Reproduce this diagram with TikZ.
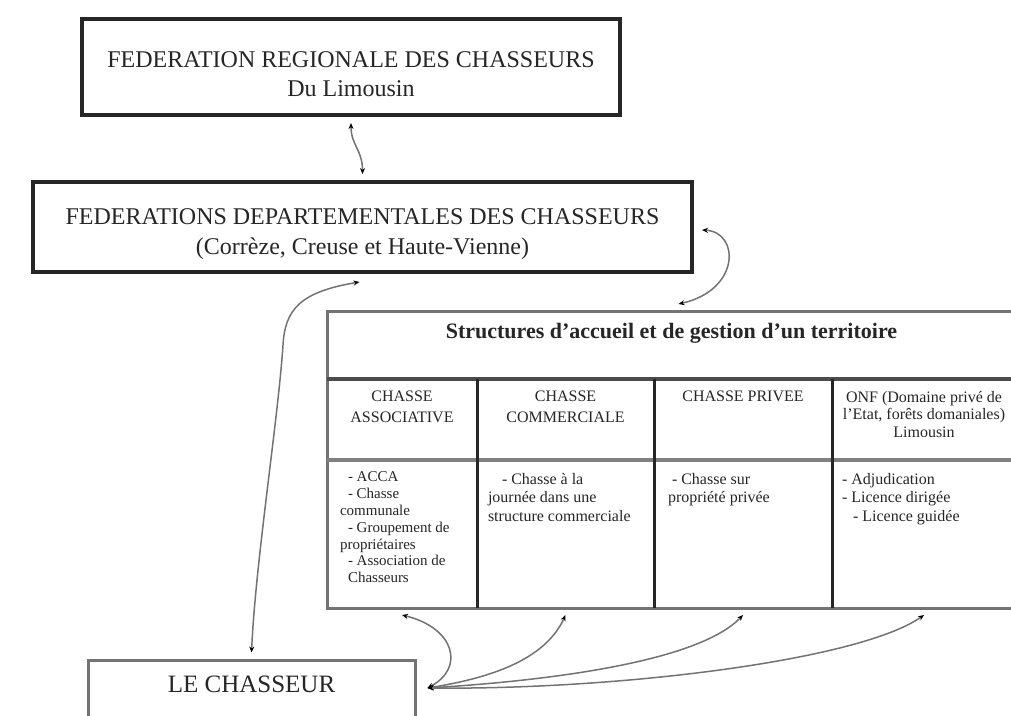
\documentclass[tikz,border=0pt]{standalone}
\usepackage{fontspec}
\setmainfont{Liberation Serif}
\usetikzlibrary{arrows.meta}
\newcommand{\mycell}[4]{\parbox[c][#2][t]{#1}{\vspace*{#3}#4}}
\begin{document}
\begin{tikzpicture}[x=1pt,y=-1pt,
  bigbox/.style={draw=black!85,line width=4pt,inner sep=0pt,text=black!85},
  smallbox/.style={draw=black!55,line width=3pt,inner sep=0pt,text=black!85},
  cell/.style={inner sep=0pt,outer sep=0pt,text=black!85},
  tout/.style={draw=black!55,line width=3pt},
  rowa/.style={draw=black!70,line width=4.5pt},
  rowb/.style={draw=black!50,line width=4pt},
  colline/.style={draw=black!85,line width=3pt},
  conn/.style={draw=black!55,line width=1.5pt,>={Stealth[length=6pt,width=5pt,color=black]},<->},
]
\useasboundingbox (0,0) rectangle (1011,715);
\fill[white] (0,0) rectangle (1011,715);

% top boxes
\node[bigbox] (top) at (351,67) {\mycell{538pt}{96pt}{33pt}{\centering\fontsize{24}{29}\selectfont FEDERATION REGIONALE DES CHASSEURS\\Du Limousin}};
\node[bigbox] (dept) at (362.5,227) {\mycell{659pt}{90pt}{27pt}{\centering\fontsize{24}{30}\selectfont FEDERATIONS DEPARTEMENTALES DES CHASSEURS\\(Corrèze, Creuse et Haute-Vienne)}};

% table cells
\node[cell] (thead) at (671.5,345) {\mycell{689pt}{68pt}{12pt}{\centering\fontsize{22}{26}\selectfont\bfseries Structures d'accueil et de gestion d'un territoire}};
\node[cell] (h1) at (402,419.5) {\mycell{150pt}{81pt}{12pt}{\centering\fontsize{16}{21}\selectfont CHASSE\\ASSOCIATIVE}};
\node[cell] (h2) at (565.5,419.5) {\mycell{177pt}{81pt}{12pt}{\centering\fontsize{16}{21}\selectfont CHASSE\\COMMERCIALE}};
\node[cell] (h3) at (743,419.5) {\mycell{178pt}{81pt}{12pt}{\centering\fontsize{16}{21}\selectfont CHASSE PRIVEE}};
\node[cell] (h4) at (924,419.5) {\mycell{184pt}{81pt}{12pt}{\centering\fontsize{16}{17.5}\selectfont ONF (Domaine privé de\\l'Etat, forêts domaniales)\\Limousin}};
\node[cell] (b1) at (402,534) {\mycell{150pt}{148pt}{12pt}{\raggedright\leftskip=13pt\fontsize{15}{16.8}\selectfont
  \hspace*{8pt}- ACCA\\\hspace*{8pt}- Chasse\\communale\\\hspace*{8pt}- Groupement de\\propriétaires\\\hspace*{8pt}- Association de\\\hspace*{8pt}Chasseurs}};
\node[cell] (b2) at (565.5,534) {\mycell{177pt}{148pt}{13pt}{\raggedright\leftskip=11pt\fontsize{16}{18.5}\selectfont
  \hspace*{14pt}- Chasse à la\\journée dans une\\structure commerciale}};
\node[cell] (b3) at (743,534) {\mycell{178pt}{148pt}{13pt}{\raggedright\leftskip=14pt\fontsize{16}{18.5}\selectfont
  \hspace*{4pt}- Chasse sur\\propriété privée}};
\node[cell] (b4) at (924,534) {\mycell{184pt}{148pt}{13pt}{\raggedright\leftskip=10pt\fontsize{16}{18.5}\selectfont
  - Adjudication\\- Licence dirigée\\\hspace*{11pt}- Licence guidée}};

% table grid
\draw[tout] (thead.north west) rectangle (b4.south east);
\draw[rowa] (h1.north west) -- (h4.north east);
\draw[rowb] (b1.north west) -- (b4.north east);
\draw[colline] (h1.north east) -- (b1.south east);
\draw[colline] (h2.north east) -- (b2.south east);
\draw[colline] (h3.north east) -- (b3.south east);

% hunter
\node[smallbox] (chasseur) at (251.5,720) {\mycell{327pt}{120pt}{16pt}{\centering\fontsize{25}{30}\selectfont LE CHASSEUR}};

% connector end points
\coordinate (hub) at ([shift={(11pt,32pt)}]chasseur.east);
\coordinate (e1) at ([yshift=-7pt]b1.south);
\coordinate (e2) at ([yshift=-7pt]b2.south);
\coordinate (e3) at ([yshift=-7pt]b3.south);
\coordinate (e4) at ([yshift=-7pt]b4.south);

% connectors
\draw[conn] ([yshift=-6pt]top.south) .. controls +(0,22) and +(0,-24) .. ([yshift=6pt]dept.north);
\draw[conn] ([shift={(8pt,-3pt)}]dept.east) .. controls +(38,2) and +(62,-14) .. ([shift={(7pt,7pt)}]thead.north);
\draw[conn] ([shift={(-3pt,-8pt)}]dept.south) .. controls +(-60,10) and +(2,-35) .. (283,345) .. controls +(-5,75) and +(4,-90) .. ([yshift=6pt]chasseur.north);
\draw[conn] (hub) .. controls (465,668) and (455,628) .. (e1);
\draw[conn] (hub) .. controls (490,678) and (545,660) .. (e2);
\draw[conn] (hub) .. controls (560,680) and (700,660) .. (e3);
\draw[conn] (hub) .. controls (620,690) and (860,660) .. (e4);
\end{tikzpicture}
\end{document}
